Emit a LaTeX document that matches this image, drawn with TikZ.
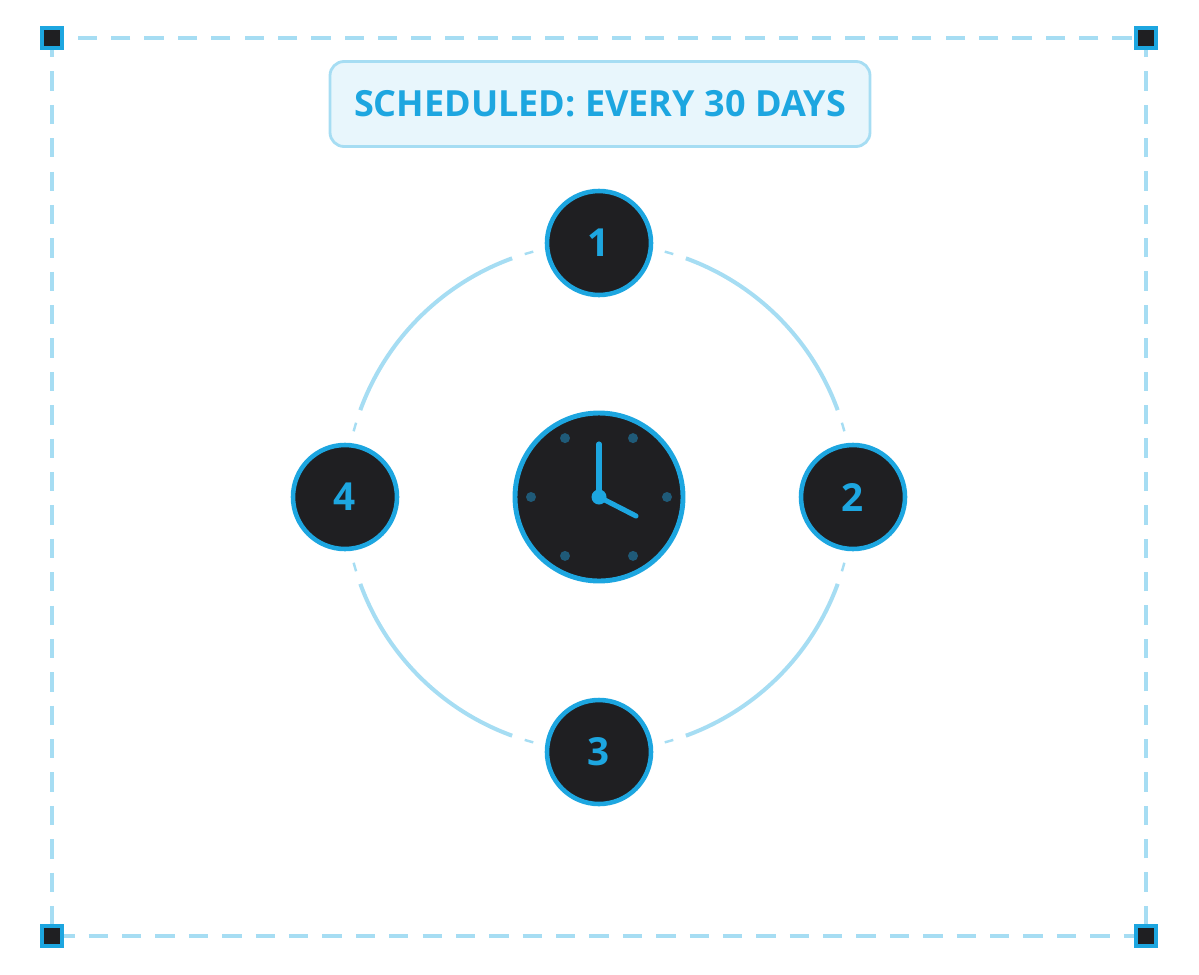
\documentclass[tikz,border=0pt]{standalone}
\usepackage{fontspec}
\setmainfont{Open Sans}
\usetikzlibrary{positioning,calc}
\definecolor{accent}{HTML}{1DA6E0}
\definecolor{pale}{HTML}{A6DDF3}
\definecolor{badgebg}{HTML}{E8F6FC}
\definecolor{dial}{HTML}{1F1F22}
\definecolor{tick}{HTML}{1F5A78}
\tikzset{
  stage/.style={circle, fill=dial, draw=accent, line width=2.6pt, minimum size=104*0.02cm,
    text=accent, font=\fontsize{22}{24}\selectfont\bfseries, inner sep=0pt},
  corner/.style={fill=dial, draw=accent, line width=2pt, minimum size=20*0.02cm, inner sep=0pt},
  ring/.style={pale, line width=2.3pt},
  caption/.style={text=white, font=\fontsize{12}{14}\selectfont\bfseries},
}
\begin{document}
\begin{tikzpicture}[x=0.02cm, y=-0.02cm]
\useasboundingbox (0,0) rectangle (1199,974);
% frame
\draw [pale, line width=1.9pt, dash pattern=on 11pt off 8pt] (52,38) rectangle (1146,936);
\foreach \cx/\cy [count=\i] in {52/38, 1146/38, 52/936, 1146/936}
  \node [corner] (c\i) at (\cx,\cy) {};
% badge
\node [fill=badgebg, draw=pale, line width=1.6pt, rounded corners=8pt, minimum width=540*0.02cm,
  minimum height=85*0.02cm, text=accent, font=\fontsize{20.5}{22}\selectfont\bfseries] (badge)
  at (600,104) {SCHEDULED: EVERY 30 DAYS};
% ring
\coordinate (hub) at (599,497);
\foreach \a in {0,90,180,270} {
  \draw [ring] ($(hub)+(\a+20:254 and -254)$) arc [start angle=-\a-20, end angle=-\a-70, radius=254];
  \draw [ring, line width=1.4pt] ($(hub)+(\a+73:254 and -254)$) arc [start angle=-\a-73, end angle=-\a-75, radius=254];
  \draw [ring, line width=1.4pt] ($(hub)+(\a+15:254 and -254)$) arc [start angle=-\a-15, end angle=-\a-17, radius=254];
}
% stages
\node [stage] (s1) at (599,243) {1};
\node [stage] (s2) at (853,497) {2};
\node [stage] (s3) at (599,752) {3};
\node [stage] (s4) at (345,497) {4};
\node [caption, right=12pt of s2] (l2) {Simulate};
\node [caption, below=40pt of s3] (l3) {Validate};
\node [caption, left=12pt of s4] (l4) {Review};
% clock
\node [circle, fill=dial, draw=accent, line width=2.8pt, minimum size=168*0.02cm] (clock) at (hub) {};
\foreach \a in {0,60,...,300}
  \fill [tick] ($(hub)+(\a:68 and -68)$) circle [radius=5];
\draw [accent, line width=2.9pt, line cap=round] (hub) -- ++(0,-53);
\draw [accent, line width=2.9pt, line cap=round] (hub) -- ++(37,19);
\fill [accent] (hub) circle [radius=7.5];
\end{tikzpicture}
\end{document}
